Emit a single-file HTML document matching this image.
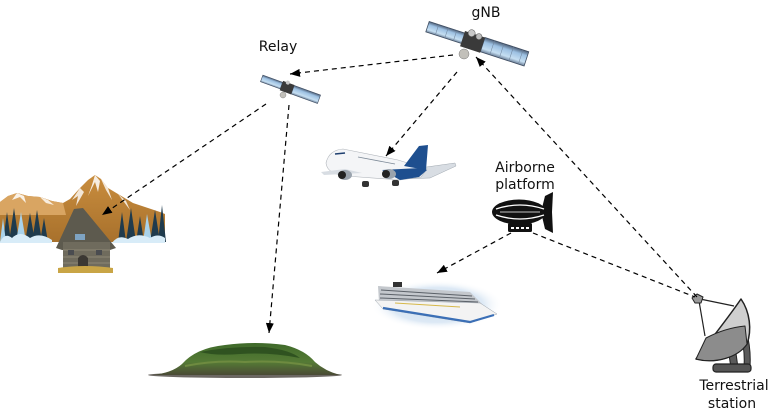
<!DOCTYPE html>
<html><head><meta charset="utf-8">
<style>
html,body{margin:0;padding:0;background:#fff;}
svg{display:block;}
text{font-family:"DejaVu Sans","Liberation Sans",sans-serif;font-size:14px;fill:#111;}
</style></head><body>
<svg width="777" height="416" viewBox="0 0 777 416" xmlns="http://www.w3.org/2000/svg">
<defs>
<marker id="ah" viewBox="0 0 10 8" refX="10" refY="4" markerWidth="10" markerHeight="8" markerUnits="userSpaceOnUse" orient="auto"><path d="M0,0 L10,4 L0,8 z" fill="#000"/></marker>
<linearGradient id="panel" x1="0" y1="0" x2="0" y2="1"><stop offset="0" stop-color="#4c5d75"/><stop offset="0.3" stop-color="#9cc0e2"/><stop offset="0.75" stop-color="#c6dff2"/><stop offset="1" stop-color="#6b7f98"/></linearGradient>
<radialGradient id="glow" cx="0.5" cy="0.5" r="0.5"><stop offset="0" stop-color="#c9dcee"/><stop offset="0.7" stop-color="#dde9f5"/><stop offset="1" stop-color="#ffffff" stop-opacity="0"/></radialGradient>
<linearGradient id="mtn" x1="0" y1="0" x2="0" y2="1"><stop offset="0" stop-color="#c98d3e"/><stop offset="1" stop-color="#a8712c"/></linearGradient>
<linearGradient id="isl" x1="0" y1="0" x2="0" y2="1"><stop offset="0" stop-color="#3f6a2a"/><stop offset="0.6" stop-color="#557a35"/><stop offset="1" stop-color="#4a4a35"/></linearGradient>
</defs>

<!-- Mountains scene -->
<g>
  <path d="M0,202 L8,196 L17,193 L28,196 L40,197 L52,201 L63,203 L70,199 L80,188 L88,180 L95,175 L101,179 L108,188 L118,194 L133,203 L148,208 L160,212 L165,214 L165,242 L0,242 Z" fill="url(#mtn)"/>
  <path d="M0,202 L8,196 L17,193 L28,196 L40,197 L52,201 L63,203 L66,215 L0,215 Z" fill="#d9a562"/>
  <path d="M95,175 L92,185 L88,196 L91,190 L95,182 L98,192 L100,181 Z" fill="#fff" opacity="0.85"/>
  <path d="M101,179 L106,190 L112,200 L108,188 Z" fill="#fff" opacity="0.8"/>
  <path d="M17,193 L12,200 L20,197 L26,203 L24,196 Z" fill="#fff" opacity="0.85"/>
  <path d="M80,188 L72,200 L78,196 L76,206 L84,192 Z" fill="#fff" opacity="0.8"/>
  <path d="M118,194 L124,202 L130,210 L126,201 Z" fill="#fff" opacity="0.8"/>
  <path d="M40,197 L46,203 L54,205 L48,200 Z" fill="#fff" opacity="0.8"/>
  <g fill="#1f3b4d">
    <polygon points="3,242 7,212 11,242"/>
    <polygon points="9,242 14,208 19,242"/>
    <polygon points="25,242 30,213 35,242"/>
    <polygon points="32,242 37,210 42,242"/>
    <polygon points="40,242 44,218 48,242"/>
    <polygon points="118,242 122,212 126,242"/>
    <polygon points="126,242 131,208 136,242"/>
    <polygon points="136,242 140,216 144,242"/>
    <polygon points="150,242 155,210 160,242"/>
    <polygon points="158,242 162,205 166,242"/>
  </g>
  <g fill="#a9d2ea">
    <polygon points="16,242 21,212 26,242"/>
    <polygon points="143,242 147,214 152,242"/>
    <polygon points="0,242 3,218 6,242"/>
  </g>
  <path d="M0,242 Q5,232 12,238 Q20,230 30,238 Q40,232 52,240 L52,243 L0,243 Z" fill="#d8ecf8"/>
  <path d="M112,243 Q118,234 128,239 Q138,232 150,238 Q158,233 165,238 L165,243 Z" fill="#d8ecf8"/>
  <!-- house -->
  <path d="M56,248 L74,209 L83,208 L116,248 L110,250 L62,250 Z" fill="#5d5a4e"/>
  <rect x="63" y="242" width="47" height="27" fill="#6f6b5d"/>
  <path d="M63,250 L110,250 M63,257 L110,257 M63,263 L110,263" stroke="#8c8775" stroke-width="1"/>
  <rect x="75" y="234" width="10" height="6" fill="#7ea3c2"/>
  <rect x="68" y="250" width="6" height="5" fill="#4a4c50"/>
  <rect x="96" y="250" width="6" height="5" fill="#4a4c50"/>
  <path d="M78,269 L78,258 Q83,252 88,258 L88,269 Z" fill="#3b3833"/>
  <path d="M58,268 Q85,264 113,268 L113,273 L58,273 Z" fill="#c9a546"/>
</g>

<!-- Island -->
<g>
  <ellipse cx="245" cy="375" rx="97" ry="3" fill="#3a342e" opacity="0.75"/>
  <path d="M152,375 Q172,373 182,364 Q196,348 225,345 Q255,341 285,345 Q305,350 315,362 Q325,371 340,375 Z" fill="url(#isl)"/>
  <path d="M200,352 Q230,346 265,347 Q290,350 300,358 Q270,352 240,354 Q215,356 200,352 Z" fill="#2f5220"/>
  <path d="M185,366 Q215,360 245,362 Q280,360 312,366" stroke="#6e8b40" stroke-width="2" fill="none"/>
</g>

<!-- Cruise ship -->
<g>
  <ellipse cx="437" cy="305" rx="66" ry="25" fill="url(#glow)"/>
  <path d="M378,286 L470,292 L482,304 L379,302 Z" fill="#c4c8cd"/>
  <path d="M381,290 L472,296 M380,294 L475,299 M380,298 L478,302" stroke="#5b6168" stroke-width="1"/>
  <rect x="393" y="282" width="9" height="5" fill="#333"/>
  <path d="M375,300 L480,303 L497,314 L470,323 L383,309 Z" fill="#f3f3f3" stroke="#9aa2aa" stroke-width="0.5"/>
  <path d="M383,308 L470,322 L494,315" stroke="#3b6fb6" stroke-width="2.2" fill="none"/>
  <path d="M395,303 L460,307" stroke="#d6b84a" stroke-width="1"/>
</g>

<!-- Airplane -->
<g>
  <path d="M398,171 L455,163 L456,166 L430,178 L402,179 Z" fill="#d8dde3" stroke="#a0a8b0" stroke-width="0.5"/>
  <path d="M326,163 Q329,150 343,149 L398,160 L427,169 L421,177 L400,180 L346,176 Q327,174 326,163 Z" fill="#f4f5f7" stroke="#b0b5bb" stroke-width="0.6"/>
  <path d="M382,170 L420,168 L427,170 L419,177 L400,180 Z" fill="#1e4f8f"/>
  <path d="M404,166 L419,146 L428,145 L426,170 Z" fill="#1e4f8f"/>
  <path d="M345,169 L321,172 L324,175 L362,173 Z" fill="#d8dde3"/>
  <path d="M335,154 L345,153" stroke="#1e3f6f" stroke-width="1.6"/>
  <path d="M358,157 L395,164" stroke="#7b8896" stroke-width="0.8"/>
  <ellipse cx="345" cy="175" rx="7" ry="5" fill="#9aa3ad"/>
  <ellipse cx="342" cy="175" rx="4" ry="4" fill="#222"/>
  <ellipse cx="389" cy="174" rx="7" ry="5" fill="#9aa3ad"/>
  <ellipse cx="386" cy="174" rx="4" ry="4" fill="#222"/>
  <rect x="362" y="181" width="7" height="6" rx="2" fill="#333"/>
  <rect x="392" y="180" width="7" height="6" rx="2" fill="#333"/>
</g>

<!-- Airship -->
<g>
  <ellipse cx="519" cy="212" rx="27" ry="12.5" fill="#111"/>
  <path d="M541,212 L545,196 L553,192 L552,212 L553,233 L545,229 Z" fill="#111"/>
  <path d="M496,209 Q520,201 544,209" stroke="#fff" stroke-width="1.3" fill="none"/>
  <path d="M496,215 Q520,223 544,215" stroke="#fff" stroke-width="1.3" fill="none"/>
  <path d="M500,212 L540,212" stroke="#fff" stroke-width="0.8"/>
  <rect x="508" y="223" width="24" height="9" rx="1.5" fill="#111"/>
  <g fill="#fff"><rect x="511" y="227" width="3" height="2"/><rect x="516" y="227" width="3" height="2"/><rect x="521" y="227" width="3" height="2"/><rect x="526" y="227" width="3" height="2"/></g>
</g>

<!-- Terrestrial station dish -->
<g stroke="#222" stroke-linejoin="round">
  <path d="M728,348 L735,346 L738,368 L731,368 Z" fill="#5a5a5a" stroke-width="1"/>
  <path d="M742,340 L748,338 Q751,352 750,368 L744,368 Q745,352 742,340 Z" fill="#5a5a5a" stroke-width="1"/>
  <rect x="713" y="364" width="38" height="8" rx="3" fill="#555" stroke-width="1.2"/>
  <path d="M741,299 C728,318 712,338 696,359 C716,364 738,357 747,344 C752,330 750,312 741,299 Z" fill="#cfcfcf" stroke-width="1.5"/>
  <path d="M706,338 Q725,328 745,326 L747,344 C738,357 716,364 696,359 Z" fill="#8c8c8c" stroke-width="1"/>
  <path d="M699,301 L705,336 M700,299 L734,306" stroke-width="1.2" fill="none"/>
  <path d="M692,298 L697,294 L703,297 L701,303 L695,303 Z" fill="#999" stroke-width="1"/>
</g>

<!-- gNB satellite -->
<g transform="translate(473,42) rotate(18)">
  <rect x="-48" y="-6" width="38" height="11" fill="url(#panel)" stroke="#3e4c60" stroke-width="0.8"/>
  <rect x="10" y="-8" width="46" height="15" fill="url(#panel)" stroke="#3e4c60" stroke-width="0.8"/>
  <path d="M-38,-6 V5 M-28,-6 V5 M-19,-6 V5 M20,-8 V7 M30,-8 V7 M40,-8 V7 M50,-8 V7" stroke="#6d8098" stroke-width="0.5"/>
  <rect x="-11" y="-8" width="21" height="16" fill="#3a3a3a"/>
  <circle cx="-4" cy="-8" r="3.5" fill="#c8c8c8" stroke="#555" stroke-width="0.5"/>
  <circle cx="4" cy="-7" r="3" fill="#bbb" stroke="#555" stroke-width="0.5"/>
</g>
<circle cx="464" cy="54" r="5" fill="#c2c0ba" stroke="#777" stroke-width="0.5"/>

<!-- Relay satellite -->
<g transform="translate(288,88) rotate(20)">
  <rect x="-28" y="-3.5" width="21" height="7" fill="url(#panel)" stroke="#3e4c60" stroke-width="0.6"/>
  <rect x="5" y="-4.5" width="28" height="9" fill="url(#panel)" stroke="#3e4c60" stroke-width="0.6"/>
  <rect x="-7" y="-5" width="12" height="10" fill="#3a3a3a"/>
  <circle cx="-2" cy="-5" r="2" fill="#c8c8c8"/>
</g>
<circle cx="283" cy="95" r="3" fill="#c2c0ba" stroke="#777" stroke-width="0.4"/>

<!-- Connectors -->
<g stroke="#000" stroke-width="1.2" stroke-dasharray="5,4" fill="none">
  <path d="M453,55 L290,74" marker-end="url(#ah)"/>
  <path d="M457,72 L386,156" marker-end="url(#ah)"/>
  <path d="M697,297 L476,57" marker-end="url(#ah)"/>
  <path d="M266,104 L102,215" marker-end="url(#ah)"/>
  <path d="M289,105 L269,333" marker-end="url(#ah)"/>
  <path d="M511,233 L437,273" marker-end="url(#ah)"/>
  <path d="M533,233 L695,297"/>
</g>

<!-- Labels -->
<text x="486" y="17" text-anchor="middle">gNB</text>
<text x="278" y="51" text-anchor="middle">Relay</text>
<text x="525" y="172" text-anchor="middle">Airborne</text>
<text x="525" y="189" text-anchor="middle">platform</text>
<text x="734" y="390" text-anchor="middle">Terrestrial</text>
<text x="732" y="408" text-anchor="middle">station</text>
</svg>
</body></html>
